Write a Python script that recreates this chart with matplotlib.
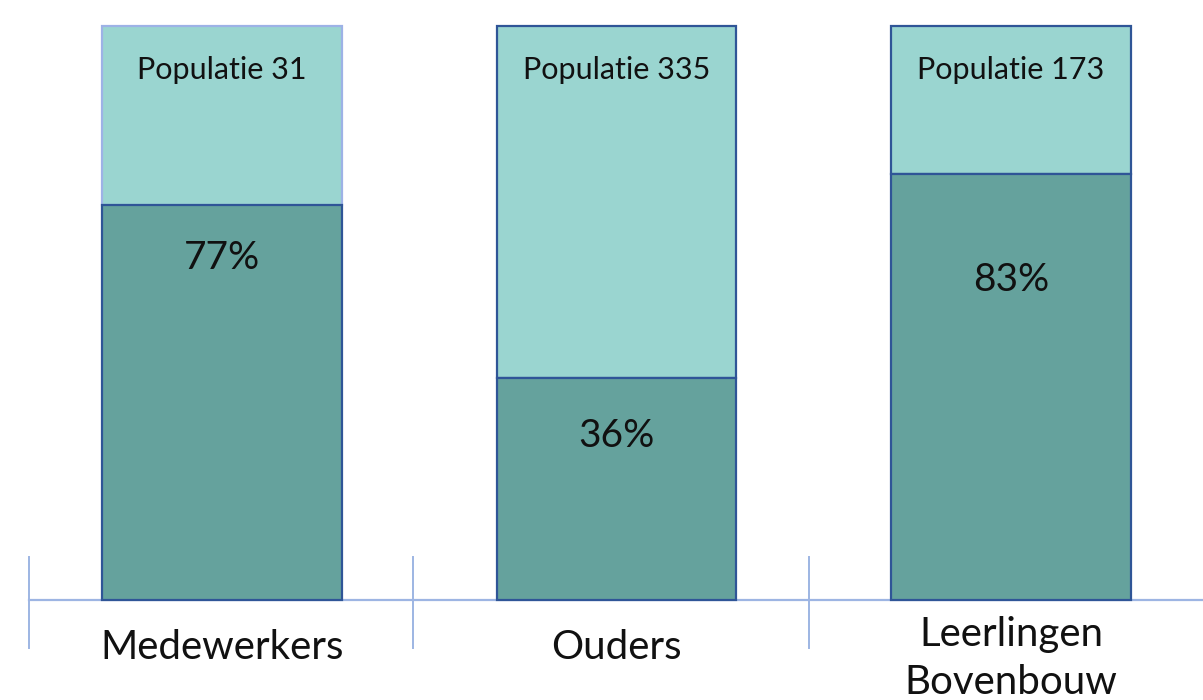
import matplotlib.pyplot as plt

# data
categories = ['Medewerkers', 'Ouders', 'Leerlingen\nBovenbouw']
populatie = [31, 335, 173]
pct_labels = ['77%', '36%', '83%']
dark_height = [68.8, 38.7, 74.2]   # visual height of dark segment (bar = 100)
total_height = [100, 100, 100]

light = '#9AD5D0'
dark = '#65A29D'
edge_dark = '#2F5597'
edge_light = '#9DB2E6'
axis_col = '#9DB5E3'

plt.rcParams['font.family'] = ['Lato', 'DejaVu Sans']

fig = plt.figure(figsize=(12.03, 7.0), dpi=100)
ax = fig.add_axes([0, 0, 1, 1])
ax.set_xlim(-0.563, 2.487)
ax.set_ylim(-17.42, 104.53)
ax.axis('off')

x = range(len(categories))
w = 0.608
top_edges = [edge_light, edge_dark, edge_dark]
rest = [t - d for t, d in zip(total_height, dark_height)]
ax.bar(x, rest, w, bottom=dark_height, color=light, edgecolor=top_edges, linewidth=1.6, zorder=2)
ax.bar(x, dark_height, w, color=dark, edgecolor=edge_dark, linewidth=1.6, zorder=3)

# axis line and category dividers
ax.plot([-0.49, 2.487], [0, 0], color=axis_col, lw=1.6, zorder=1, clip_on=False)
for d in [-0.49, 0.485, 1.487]:
    ax.plot([d, d], [7.5, -8.4], color=axis_col, lw=1.4, zorder=1)

pct_nudge = [9.2, 10.1, 18.5]
cat_y = [-8.2, -8.2, -10.2]
for i in x:
    ax.text(i, 92.3, f'Populatie {populatie[i]}', ha='center', va='center', fontsize=22, color='#111111', zorder=4)
    ax.text(i, dark_height[i] - pct_nudge[i], pct_labels[i], ha='center', va='center', fontsize=28, color='#111111', zorder=4)
    ax.text(i, cat_y[i], categories[i], ha='center', va='center', fontsize=29, color='#111111', linespacing=1.36)

fig.savefig('out.png', dpi=100)
